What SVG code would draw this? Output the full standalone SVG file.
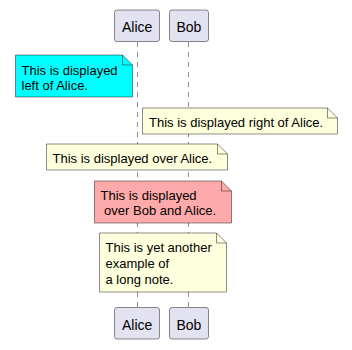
<svg xmlns="http://www.w3.org/2000/svg" width="352" height="350" viewBox="0 0 352 350">
<style>
text{font-family:"Liberation Sans",Arial,sans-serif;font-size:13px;fill:#000}
.p rect{fill:#E2E2F0;stroke:#181818;stroke-width:0.5}
.p text{font-size:14px}
.n path{stroke:#181818;stroke-width:0.5}
.y{fill:#FEFFDD}
.life{stroke:#181818;stroke-width:0.5;stroke-dasharray:5,5;fill:none}
</style>
<rect width="352" height="350" fill="#fff"/>
<g id="connectors">
<line class="life" x1="137.5" y1="42" x2="137.5" y2="307"/>
<line class="life" x1="188.5" y1="42" x2="188.5" y2="307"/>
</g>
<g id="alice-top" class="p"><rect x="114.5" y="10" width="45" height="31.5" rx="2.5"/><text x="122" y="32">Alice</text></g>
<g id="bob-top" class="p"><rect x="169.5" y="10" width="39" height="31.5" rx="2.5"/><text x="176.5" y="32">Bob</text></g>
<g id="alice-bottom" class="p"><rect x="114.5" y="307.5" width="45" height="31.5" rx="2.5"/><text x="122" y="329.5">Alice</text></g>
<g id="bob-bottom" class="p"><rect x="169.5" y="307.5" width="39" height="31.5" rx="2.5"/><text x="176.5" y="329.5">Bob</text></g>
<g id="note-left" class="n">
<path d="M15.5,55 L122.5,55 L132.5,65 L132.5,97 L15.5,97 Z" fill="#00FFFF"/>
<path d="M122.5,55 L122.5,65 L132.5,65" fill="none"/>
<text x="21.5" y="75">This is displayed</text><text x="21.5" y="90">left of Alice.</text>
</g>
<g id="note-right" class="n">
<path class="y" d="M142.5,108 L327.5,108 L337.5,118 L337.5,134 L142.5,134 Z"/>
<path d="M327.5,108 L327.5,118 L337.5,118" fill="none"/>
<text x="149" y="127">This is displayed right of Alice.</text>
</g>
<g id="note-over-alice" class="n">
<path class="y" d="M46.5,144 L217.5,144 L227.5,154 L227.5,170 L46.5,170 Z"/>
<path d="M217.5,144 L217.5,154 L227.5,154" fill="none"/>
<text x="52.5" y="163">This is displayed over Alice.</text>
</g>
<g id="note-over-both" class="n">
<path d="M94.5,181 L221.5,181 L231.5,191 L231.5,223 L94.5,223 Z" fill="#FFAAAA"/>
<path d="M221.5,181 L221.5,191 L231.5,191" fill="none"/>
<text x="100.5" y="200">This is displayed</text><text x="100.5" y="215" xml:space="preserve"> over Bob and Alice.</text>
</g>
<g id="note-long" class="n">
<path class="y" d="M99.5,233 L216.5,233 L226.5,243 L226.5,292 L99.5,292 Z"/>
<path d="M216.5,233 L216.5,243 L226.5,243" fill="none"/>
<text x="105.5" y="252">This is yet another</text><text x="105.5" y="268">example of</text><text x="105.5" y="284">a long note.</text>
</g>
</svg>
